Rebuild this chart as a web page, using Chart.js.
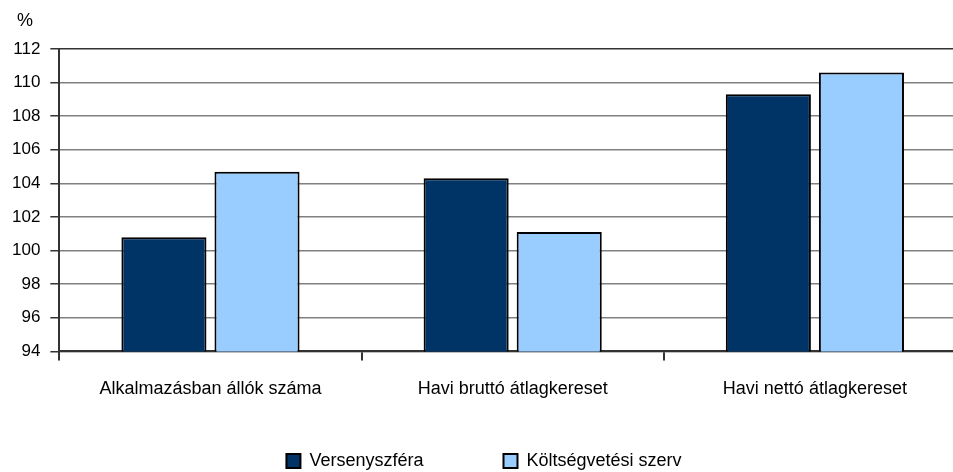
<!DOCTYPE html>
<html>
<head>
<meta charset="utf-8">
<script src="https://cdn.jsdelivr.net/npm/chart.js@4"></script>
<style>
html, body { margin: 0; padding: 0; background: #fff; overflow: hidden; }
#wrap { width: 966px; height: 472px; }
</style>
</head>
<body>
<div id="wrap"><canvas id="graph" width="966" height="472"></canvas></div>
<script>
// data
const categories = ['Alkalmazásban állók száma', 'Havi bruttó átlagkereset', 'Havi nettó átlagkereset'];
const seriesNames = ['Versenyszféra', 'Költségvetési szerv'];
const versenyszfera = [100.8, 104.3, 109.3];
const koltsegvetesi = [104.7, 101.1, 110.6];
const yMin = 94;
const yMax = 112;
const yStep = 2;

const font = 'Liberation Sans, Arial, sans-serif';

// wide gap between legend items, but keep the plot tall; also nudge the "%" right
const legendPlace = {
    id: 'legendPlace',
    beforeInit(chart) {
        const fit = chart.legend.fit;
        chart.legend.fit = function () {
            fit.call(this);
            this.height = 54;
        };
    },
    afterLayout(chart) {
        chart.legend.top = chart.legend.bottom - 100;
        chart.titleBlock.left += 15;
    }
};

const graph = document.getElementById('graph').getContext('2d');

let myChart = new Chart(graph, {
    type: 'bar',
    data: {
        labels: categories,
        datasets: [
            {
                label: seriesNames[0],
                data: versenyszfera,
                backgroundColor: '#003366',
                borderColor: '#000',
                borderWidth: 2,
                categoryPercentage: 0.616,
                barPercentage: 0.914,
            },
            {
                label: seriesNames[1],
                data: koltsegvetesi,
                backgroundColor: '#99ccff',
                borderColor: '#000',
                borderWidth: 2,
                categoryPercentage: 0.616,
                barPercentage: 0.914,
            }
        ]
    },
    options: {
        responsive: false,
        animation: false,
        layout: {
            padding: { left: 2, right: 0, top: 0, bottom: 0 }
        },
        plugins: {
            title: {
                display: true,
                text: '%',
                align: 'start',
                color: '#000',
                font: { family: font, size: 18, weight: 'normal' },
                padding: { top: 10, bottom: 17.4 }
            },
            legend: {
                position: 'bottom',
                labels: {
                    color: '#000',
                    font: { family: font, size: 18 },
                    boxWidth: 14,
                    boxHeight: 14,
                    padding: 80
                }
            },
            tooltip: { enabled: false }
        },
        scales: {
            x: {
                grid: {
                    offset: true,
                    drawOnChartArea: false,
                    drawTicks: true,
                    tickLength: 9,
                    color: '#333',
                    lineWidth: 2
                },
                border: { color: '#333', width: 2 },
                ticks: {
                    color: '#000',
                    font: { family: font, size: 18 },
                    padding: 18,
                    maxRotation: 0
                }
            },
            y: {
                min: yMin,
                max: yMax,
                grid: {
                    color: (ctx) => (ctx.tick && ctx.tick.value === yMax ? '#333' : '#808080'),
                    lineWidth: 1.5,
                    tickColor: '#333',
                    tickLength: 9
                },
                border: { color: '#333', width: 2 },
                ticks: {
                    stepSize: yStep,
                    color: '#000',
                    font: { family: font, size: 17 },
                    padding: 10
                }
            }
        }
    },
    plugins: [legendPlace]
});
</script>
</body>
</html>
